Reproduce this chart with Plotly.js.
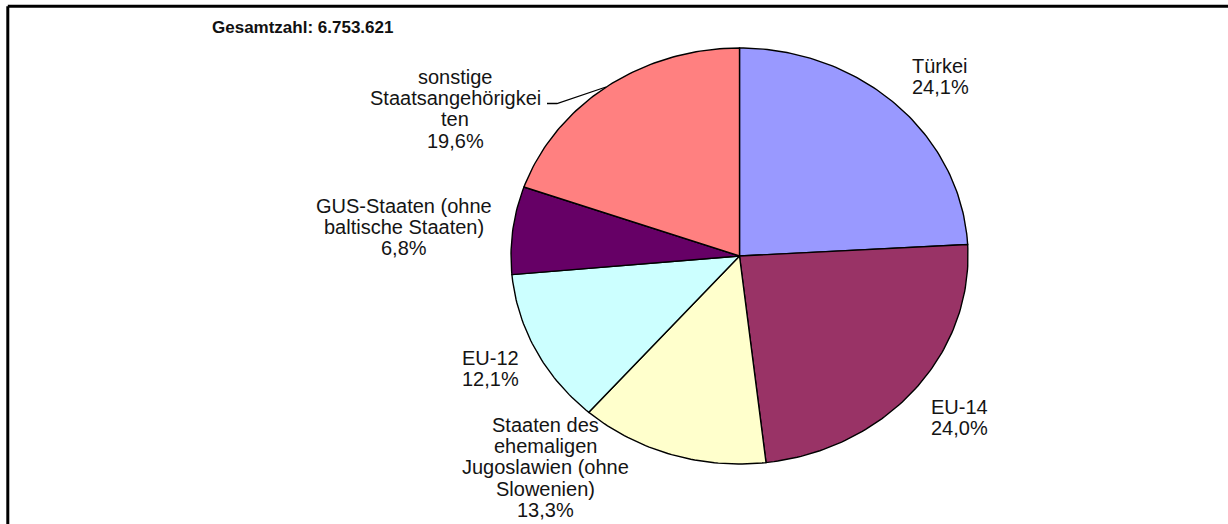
<!DOCTYPE html>
<html><head><meta charset="utf-8">
<script src="https://cdn.plot.ly/plotly-3.0.1.min.js"></script>
<style>html,body{margin:0;padding:0;background:#fff;} #chart{width:1228px;height:524px;}</style>
</head><body><div id="chart"></div>
<script>
// ---- data ----
const categories = ["Türkei", "EU-14", "Staaten des<br>ehemaligen<br>Jugoslawien (ohne<br>Slowenien)", "EU-12", "GUS-Staaten (ohne<br>baltische Staaten)", "sonstige<br>Staatsangehörigkei<br>ten"];
const shares = [24.1, 24.0, 13.3, 12.1, 6.8, 19.6];
const colors = ["#9999FF", "#993366", "#FFFFCC", "#CCFFFF", "#660066", "#FF8080"];
const totalText = "Gesamtzahl: 6.753.621";

// ---- layout constants (pixels) ----
const W = 1228, H = 524;
const cx = 739.5, cy = 256, rx = 228.5, ry = 208, pad = 1.03;
const labelPos = [[940, 66], [959, 407], [545, 425], [490.5, 357.5], [404, 205.5], [455, 77]];
const lineGap = 21.2;
const px = x => x / W, py = y => 1 - y / H;

const total = shares.reduce((a, b) => a + b, 0);
const traces = [];
let cum = 0;
shares.forEach((v, i) => {
  const s = cum / total, e = (cum + v) / total;
  cum += v;
  const xs = [0], ys = [0];
  const n = Math.max(4, Math.ceil((e - s) * 360));
  for (let k = 0; k <= n; k++) {
    const f = s + (e - s) * k / n;
    const th = Math.PI / 2 - 2 * Math.PI * f;
    xs.push(Math.cos(th)); ys.push(Math.sin(th));
  }
  xs.push(0); ys.push(0);
  traces.push({
    type: 'scatter', mode: 'lines', x: xs, y: ys, fill: 'toself',
    fillcolor: colors[i], line: {color: '#000', width: 1.4},
    hoverinfo: 'skip', showlegend: false, name: categories[i]
  });
});

const font = {family: 'Liberation Sans, Arial, sans-serif', size: 20, color: '#141414'};
const annotations = [];
categories.forEach((c, i) => {
  const lines = c.split('<br>').concat([shares[i].toFixed(1).replace('.', ',') + '%']);
  lines.forEach((t, j) => {
    annotations.push({
      text: t, xref: 'paper', yref: 'paper',
      x: px(labelPos[i][0]), y: py(labelPos[i][1] + j * lineGap),
      xanchor: 'center', yanchor: 'middle', showarrow: false, font: font
    });
  });
});
annotations.push({
  text: '<b>' + totalText + '</b>', xref: 'paper', yref: 'paper',
  x: px(302.5), y: py(27), xanchor: 'center', yanchor: 'middle', showarrow: false,
  font: {family: 'Liberation Sans, Arial, sans-serif', size: 17, color: '#111'}
});

const hw = rx * pad, hh = ry * pad;
const layout = {
  width: W, height: H, margin: {l: 0, r: 0, t: 0, b: 0},
  paper_bgcolor: '#fff', plot_bgcolor: 'rgba(0,0,0,0)',
  xaxis: {domain: [px(cx - hw), px(cx + hw)], range: [-pad, pad], visible: false, fixedrange: true},
  yaxis: {domain: [py(cy + hh), py(cy - hh)], range: [-pad, pad], visible: false, fixedrange: true},
  annotations: annotations,
  shapes: [
    {type: 'line', xref: 'paper', yref: 'paper', x0: px(7.8), x1: px(7.8), y0: py(6.3), y1: -0.1, line: {color: '#000', width: 3}},
    {type: 'line', xref: 'paper', yref: 'paper', x0: px(7.8), x1: 1.1, y0: py(6.3), y1: py(6.3), line: {color: '#000', width: 3}},
    {type: 'path', xref: 'paper', yref: 'paper',
     path: 'M ' + px(547) + ',' + py(103.5) + ' L ' + px(557) + ',' + py(103.5) + ' L ' + px(606) + ',' + py(87),
     line: {color: '#000', width: 1.3}}
  ]
};
Plotly.newPlot('chart', traces, layout, {staticPlot: true, displayModeBar: false});
</script></body></html>
